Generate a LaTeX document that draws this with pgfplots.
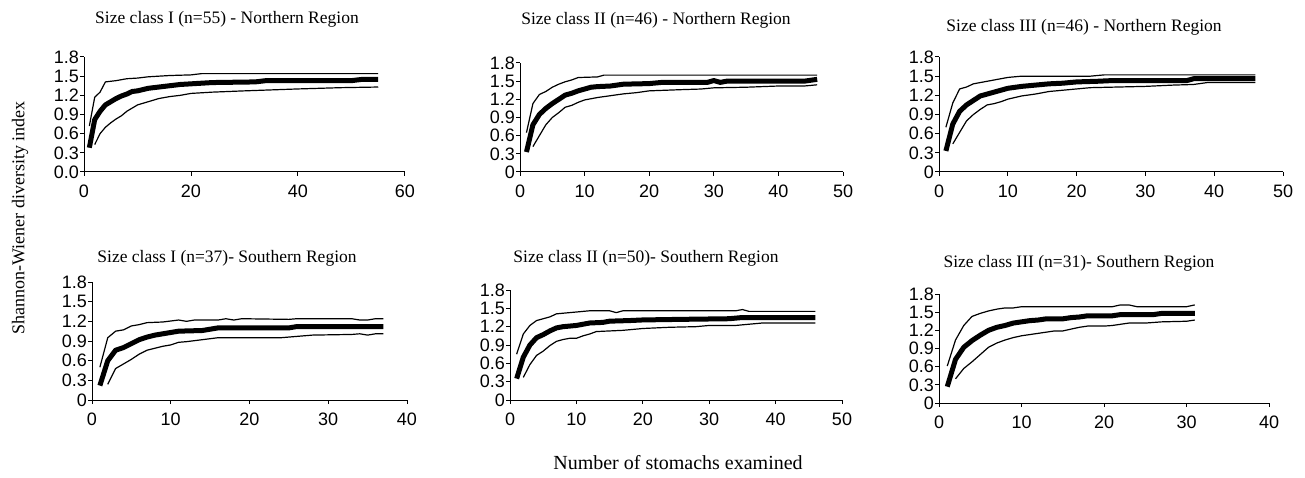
\documentclass[border=0pt]{standalone}
\usepackage{fontspec}
\setmainfont{Liberation Serif}
\newfontfamily\arial{Liberation Sans}
\usepackage{pgfplots}
\pgfplotsset{compat=1.18}
\pgfplotsset{
  panel/.style={
    scale only axis,
    axis x line=bottom, axis y line=left,
    axis line style={-, line width=1pt},
    xmin=0, ymin=0, ymax=1.8,
    ytick={0,0.3,0.6,0.9,1.2,1.5,1.8},
    yticklabels={0,0.3,0.6,0.9,1.2,1.5,1.8},
    tick align=outside, major tick length=4pt,
    tick style={black, line width=1pt},
    /pgf/number format/assume math mode=true,
    ticklabel style={font=\arial\fontsize{18}{18}\selectfont},
    yticklabel style={inner sep=1pt},
    xticklabel style={inner sep=0pt, yshift=-9pt},
    clip=false,
  },
  mn/.style={black, line width=5pt, line join=round},
  bd/.style={black, line width=1.2pt, line join=round},
}
\begin{document}
\begin{tikzpicture}
\useasboundingbox (0pt,0pt) rectangle (1305pt,477pt);
% ---------- Panel 1 ----------
\begin{axis}[panel, at={(84pt,305pt)}, anchor=south west, width=321pt, height=115pt,
  xmax=60, xtick={0,20,40,60},
  yticklabels={0.0,0.3,0.6,0.9,1.2,1.5,1.8}]
\addplot[bd] coordinates {(1,0.72)(2,1.17)(3,1.25)(4,1.41)(5,1.42)(6,1.43)(8,1.46)(10,1.47)(12,1.49)(16,1.51)(20,1.52)(22,1.54)(55,1.54)};
\addplot[mn] coordinates {(1,0.38)(2,0.82)(3,0.95)(4,1.05)(5,1.10)(6,1.15)(7,1.19)(8,1.22)(9,1.26)(10,1.27)(12,1.31)(14,1.33)(16,1.35)(18,1.37)(20,1.38)(24,1.40)(32,1.41)(34,1.43)(50,1.43)(52,1.45)(55,1.45)};
\addplot[bd] coordinates {(2,0.43)(3,0.60)(4,0.70)(5,0.77)(6,0.83)(7,0.88)(8,0.95)(10,1.05)(12,1.10)(14,1.15)(16,1.18)(18,1.20)(20,1.23)(24,1.25)(30,1.27)(40,1.30)(48,1.32)(55,1.33)};
\end{axis}
% ---------- Panel 2 ----------
\begin{axis}[panel, at={(520pt,305pt)}, anchor=south west, width=323pt, height=109pt,
  xmax=50, xtick={0,10,20,30,40,50}]
\addplot[bd] coordinates {(1,0.65)(2,1.13)(3,1.28)(4,1.33)(5,1.40)(6,1.45)(7,1.49)(8,1.52)(9,1.56)(12,1.57)(13,1.60)(46,1.60)};
\addplot[mn] coordinates {(1,0.33)(2,0.78)(3,0.95)(4,1.05)(5,1.13)(6,1.20)(7,1.27)(8,1.30)(9,1.34)(10,1.37)(11,1.40)(12,1.41)(14,1.42)(16,1.45)(20,1.46)(22,1.48)(29,1.48)(30,1.51)(31,1.48)(32,1.50)(44,1.50)(46,1.53)};
\addplot[bd] coordinates {(2,0.42)(3,0.60)(4,0.78)(5,0.90)(6,0.98)(7,1.07)(8,1.10)(9,1.15)(10,1.19)(12,1.23)(14,1.26)(16,1.29)(18,1.31)(20,1.34)(25,1.36)(28,1.37)(30,1.39)(35,1.40)(40,1.42)(44,1.42)(46,1.44)};
\end{axis}
% ---------- Panel 3 ----------
\begin{axis}[panel, at={(939pt,305pt)}, anchor=south west, width=344pt, height=115pt,
  xmax=50, xtick={0,10,20,30,40,50}]
\addplot[bd] coordinates {(1,0.70)(2,1.08)(3,1.30)(4,1.33)(5,1.38)(8,1.44)(10,1.48)(12,1.50)(22,1.50)(24,1.52)(46,1.52)};
\addplot[mn] coordinates {(1,0.33)(2,0.75)(3,0.95)(4,1.05)(5,1.12)(6,1.19)(7,1.22)(8,1.25)(9,1.28)(10,1.31)(12,1.34)(14,1.36)(16,1.38)(18,1.39)(20,1.41)(23,1.42)(25,1.43)(36,1.43)(37,1.46)(46,1.46)};
\addplot[bd] coordinates {(2,0.44)(3,0.62)(4,0.80)(5,0.90)(6,0.98)(7,1.05)(8,1.07)(9,1.10)(10,1.14)(12,1.19)(14,1.22)(16,1.26)(18,1.28)(20,1.30)(22,1.32)(26,1.33)(30,1.34)(34,1.36)(37,1.37)(39,1.40)(46,1.40)};
\end{axis}
% ---------- Panel 4 ----------
\begin{axis}[panel, at={(92pt,77pt)}, anchor=south west, width=315pt, height=118pt,
  xmax=40, xtick={0,10,20,30,40}]
\addplot[bd] coordinates {(1,0.50)(2,0.95)(3,1.05)(4,1.07)(5,1.13)(6,1.15)(7,1.18)(9,1.19)(11,1.22)(12,1.20)(13,1.22)(16,1.22)(17,1.24)(18,1.22)(19,1.24)(25,1.23)(26,1.24)(33,1.24)(34,1.22)(35,1.22)(36,1.24)(37,1.24)};
\addplot[mn] coordinates {(1,0.22)(2,0.60)(3,0.76)(4,0.80)(5,0.86)(6,0.92)(7,0.96)(8,0.99)(10,1.03)(11,1.05)(14,1.06)(15,1.08)(16,1.10)(25,1.10)(26,1.12)(37,1.12)};
\addplot[bd] coordinates {(2,0.24)(3,0.48)(4,0.55)(5,0.62)(6,0.70)(7,0.76)(8,0.79)(9,0.82)(10,0.84)(11,0.88)(12,0.89)(14,0.92)(16,0.95)(20,0.95)(24,0.95)(26,0.97)(28,0.99)(33,1.00)(34,1.01)(35,0.99)(36,1.01)(37,1.01)};
\end{axis}
% ---------- Panel 5 ----------
\begin{axis}[panel, at={(510pt,77pt)}, anchor=south west, width=332pt, height=110pt,
  xmax=50, xtick={0,10,20,30,40,50}]
\addplot[bd] coordinates {(1,0.75)(2,1.08)(3,1.22)(4,1.30)(5,1.33)(6,1.36)(7,1.41)(9,1.43)(11,1.45)(12,1.46)(15,1.46)(16,1.43)(17,1.46)(34,1.46)(35,1.48)(36,1.45)(46,1.45)};
\addplot[mn] coordinates {(1,0.35)(2,0.70)(3,0.90)(4,1.02)(5,1.07)(6,1.13)(7,1.18)(8,1.20)(10,1.22)(12,1.26)(14,1.27)(15,1.29)(18,1.30)(20,1.31)(26,1.32)(33,1.33)(35,1.35)(46,1.35)};
\addplot[bd] coordinates {(2,0.37)(3,0.58)(4,0.73)(5,0.80)(6,0.89)(7,0.96)(8,0.99)(9,1.01)(10,1.01)(11,1.05)(12,1.08)(13,1.12)(15,1.13)(17,1.14)(20,1.17)(24,1.19)(28,1.20)(30,1.22)(34,1.22)(36,1.24)(38,1.26)(46,1.26)};
\end{axis}
% ---------- Panel 6 ----------
\begin{axis}[panel, at={(939pt,74pt)}, anchor=south west, width=330pt, height=109pt,
  xmax=40, xtick={0,10,20,30,40}]
\addplot[bd] coordinates {(1,0.61)(2,1.04)(3,1.28)(4,1.43)(5,1.48)(6,1.52)(7,1.55)(8,1.57)(9,1.57)(10,1.59)(21,1.59)(22,1.62)(23,1.62)(24,1.59)(30,1.59)(31,1.62)};
\addplot[mn] coordinates {(1,0.27)(2,0.72)(3,0.92)(4,1.03)(5,1.12)(6,1.20)(7,1.25)(8,1.28)(9,1.32)(10,1.34)(11,1.36)(12,1.37)(13,1.39)(15,1.39)(16,1.41)(17,1.42)(18,1.44)(21,1.44)(22,1.46)(26,1.46)(27,1.48)(31,1.48)};
\addplot[bd] coordinates {(2,0.40)(3,0.57)(4,0.68)(5,0.80)(6,0.92)(7,0.99)(8,1.04)(9,1.08)(10,1.11)(11,1.13)(12,1.15)(13,1.17)(14,1.19)(15,1.19)(16,1.22)(17,1.25)(18,1.27)(20,1.27)(21,1.28)(22,1.30)(23,1.32)(25,1.32)(27,1.34)(30,1.35)(31,1.37)};
\end{axis}
% ---------- Titles and labels ----------
\begin{scope}[every node/.style={inner sep=0pt, font=\fontsize{17.5}{18}\selectfont}]
\node at (227pt,458pt) {Size class I (n=55) - Northern Region};
\node at (656pt,457pt) {Size class II (n=46) - Northern Region};
\node at (1084pt,450pt) {Size class III (n=46) - Northern Region};
\node at (227pt,219pt) {Size class I (n=37)- Southern Region};
\node at (646pt,219pt) {Size class II (n=50)- Southern Region};
\node at (1079pt,214pt) {Size class III (n=31)- Southern Region};
\end{scope}
\node[inner sep=0pt, rotate=90, font=\fontsize{18}{18}\selectfont] at (20pt,259pt) {Shannon-Wiener diversity index};
\node[inner sep=0pt, font=\fontsize{20}{20}\selectfont] at (678pt,14pt) {Number of stomachs examined};
\end{tikzpicture}
\end{document}
